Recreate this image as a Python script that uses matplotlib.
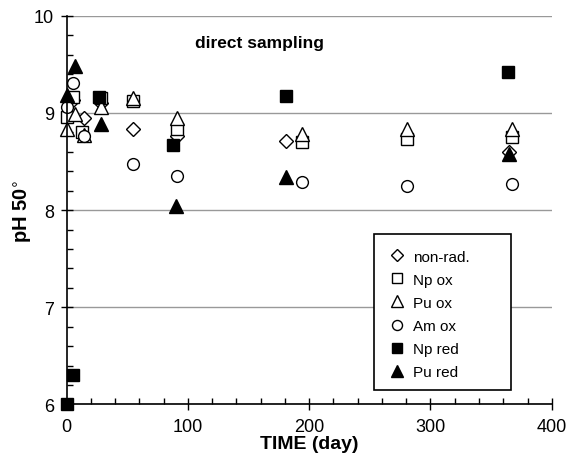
import matplotlib
matplotlib.use("Agg")
import matplotlib.pyplot as plt
from matplotlib.ticker import MultipleLocator
from matplotlib.patches import Rectangle

plt.rcParams["font.family"] = ["Liberation Sans", "DejaVu Sans"]

# days and pH values
nonrad_day = [5, 14, 28, 55, 91, 181, 365]
nonrad_ph = [9.13, 8.95, 9.10, 8.84, 8.76, 8.71, 8.60]

npox_day = [0, 5, 13, 28, 55, 91, 194, 281, 367]
npox_ph = [8.96, 9.16, 8.80, 9.15, 9.12, 8.84, 8.70, 8.73, 8.75]

puox_day = [0, 7, 14, 28, 55, 91, 194, 281, 367]
puox_ph = [8.83, 8.99, 8.77, 9.06, 9.15, 8.95, 8.78, 8.83, 8.83]

amox_day = [0, 5, 14, 55, 91, 194, 281, 367]
amox_ph = [9.06, 9.31, 8.76, 8.47, 8.35, 8.29, 8.25, 8.27]

npred_day = [0, 5, 27, 88, 181, 364]
npred_ph = [6.01, 6.30, 9.16, 8.67, 9.17, 9.42]

pured_day = [0, 7, 28, 90, 181, 365]
pured_ph = [9.19, 9.48, 8.89, 8.04, 8.34, 8.58]

fig = plt.figure(figsize=(5.7, 4.6), dpi=100)
ax = fig.add_axes([0.117, 0.1185, 0.851, 0.845])

ax.yaxis.grid(True, which="major", color="#999999", linewidth=1)
ax.set_axisbelow(True)

ax.plot(nonrad_day, nonrad_ph, ls="none", marker="D", ms=7, mfc="white", mec="black", mew=1, label="non-rad.")
ax.plot(npox_day, npox_ph, ls="none", marker="s", ms=8, mfc="white", mec="black", mew=1, label="Np ox")
ax.plot(puox_day, puox_ph, ls="none", marker="^", ms=9.5, mfc="white", mec="black", mew=1, label="Pu ox")
ax.plot(amox_day, amox_ph, ls="none", marker="o", ms=8.5, mfc="white", mec="black", mew=1, label="Am ox")
ax.plot(npred_day, npred_ph, ls="none", marker="s", ms=8, mfc="black", mec="black", mew=1, label="Np red")
ax.plot(pured_day, pured_ph, ls="none", marker="^", ms=9.5, mfc="black", mec="black", mew=1, label="Pu red")

ax.set_xlim(0, 400)
ax.set_ylim(6, 10)
ax.xaxis.set_major_locator(MultipleLocator(100))
ax.xaxis.set_minor_locator(MultipleLocator(20))
ax.yaxis.set_major_locator(MultipleLocator(1))
ax.yaxis.set_minor_locator(MultipleLocator(0.2))
ax.tick_params(which="major", direction="inout", length=8, width=1, labelsize=13)
ax.tick_params(axis="x", which="major", pad=6)
ax.tick_params(axis="y", which="major", pad=5)
ax.tick_params(which="minor", direction="in", length=4, width=1)

for s in ["top", "right"]:
    ax.spines[s].set_visible(False)
for s in ["left", "bottom"]:
    ax.spines[s].set_linewidth(1.2)

for c in ax.get_lines():
    c.set_clip_on(False)

ax.set_xlabel("TIME (day)", fontsize=14, fontweight="bold", labelpad=0)
ax.set_ylabel("pH 50$^{\\circ}$", fontsize=14.5, fontweight="bold")
ax.yaxis.set_label_coords(-0.068, 0.5)

ax.text(159, 9.73, "direct sampling", fontsize=12.5, fontweight="bold", ha="center", va="center")

# legend entries without frame, box drawn separately (wider than contents)
leg = ax.legend(loc="upper left", bbox_to_anchor=(0.633, 0.44), fontsize=11,
                frameon=False, handlelength=0.9, handletextpad=0.6,
                borderpad=0.55, labelspacing=0.6, markerscale=0.85)
box = Rectangle((0.633, 0.0373), 0.282, 0.4012, transform=ax.transAxes,
                facecolor="white", edgecolor="black", linewidth=1.2, zorder=4)
ax.add_patch(box)
leg.set_zorder(5)

fig.savefig("out.png", dpi=100)
